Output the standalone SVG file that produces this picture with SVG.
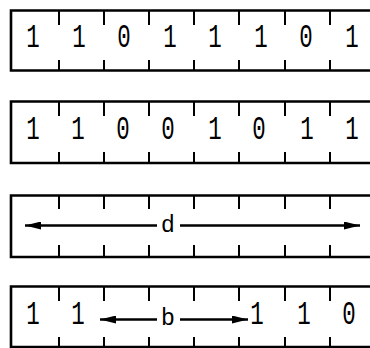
<svg xmlns="http://www.w3.org/2000/svg" width="370" height="348" viewBox="0 0 370 348">
<defs>
<style>
.frame{fill:none;stroke:#000;stroke-width:2.6}
.tick{stroke:#000;stroke-width:2}
.dig{font-family:"Liberation Mono","Courier New",monospace;font-size:33px;text-anchor:middle;fill:#000}
.lbl{font-family:"Liberation Sans",Arial,sans-serif;font-size:23px;text-anchor:middle;fill:#000}
.arr{stroke:#000;stroke-width:2.4;fill:none}
</style>
<marker id="ah" viewBox="0 0 16 8" refX="16" refY="4" markerWidth="16" markerHeight="8" markerUnits="userSpaceOnUse" orient="auto-start-reverse">
<path d="M0,0 L16,4 L0,8 Z" fill="#000"/>
</marker>
</defs>
<g id="row1">
<path class="frame" d="M370,10.5 H11 V70.5 H370"/>
<path class="tick" d="M59,10 V25 M104,10 V25 M149,10 V25 M194,10 V25 M239,10 V25 M285,10 V25 M330,10 V25 M59,60 V71 M104,60 V71 M149,60 V71 M194,60 V71 M239,60 V71 M285,60 V71 M330,60 V71"/>
<text class="dig" transform="translate(33,47) scale(0.68,1)">1</text>
<text class="dig" transform="translate(79,47) scale(0.68,1)">1</text>
<text class="dig" transform="translate(124,47) scale(0.68,1)">0</text>
<text class="dig" transform="translate(170,47) scale(0.68,1)">1</text>
<text class="dig" transform="translate(215,47) scale(0.68,1)">1</text>
<text class="dig" transform="translate(261,47) scale(0.68,1)">1</text>
<text class="dig" transform="translate(306,47) scale(0.68,1)">0</text>
<text class="dig" transform="translate(352,47) scale(0.68,1)">1</text>
</g>
<g id="row2">
<path class="frame" d="M370,101.5 H11 V163 H370"/>
<path class="tick" d="M59,101 V116 M104,101 V116 M149,101 V116 M194,101 V116 M239,101 V116 M285,101 V116 M330,101 V116 M59,152 V163 M104,152 V163 M149,152 V163 M194,152 V163 M239,152 V163 M285,152 V163 M330,152 V163"/>
<text class="dig" transform="translate(33,139) scale(0.68,1)">1</text>
<text class="dig" transform="translate(78,139) scale(0.68,1)">1</text>
<text class="dig" transform="translate(123,139) scale(0.68,1)">0</text>
<text class="dig" transform="translate(168,139) scale(0.68,1)">0</text>
<text class="dig" transform="translate(215,139) scale(0.68,1)">1</text>
<text class="dig" transform="translate(259,139) scale(0.68,1)">0</text>
<text class="dig" transform="translate(307,139) scale(0.68,1)">1</text>
<text class="dig" transform="translate(352,139) scale(0.68,1)">1</text>
</g>
<g id="row3">
<path class="frame" d="M370,195.5 H11 V257 H370"/>
<path class="tick" d="M59,195 V209 M104,195 V209 M149,195 V209 M194,195 V209 M239,195 V209 M285,195 V209 M330,195 V209 M59,245 V257 M104,245 V257 M149,245 V257 M194,245 V257 M239,245 V257 M285,245 V257 M330,245 V257"/>
<text class="lbl" x="168" y="232">d</text>
</g>
<g id="row4">
<path class="frame" d="M370,286.5 H11 V347 H370"/>
<path class="tick" d="M59,286 V301 M104,286 V301 M149,286 V301 M194,286 V301 M239,286 V301 M285,286 V301 M330,286 V301 M59,337 V347 M104,337 V347 M149,337 V347 M194,337 V347 M239,337 V347 M285,337 V347 M330,337 V347"/>
<text class="dig" transform="translate(33,324) scale(0.68,1)">1</text>
<text class="dig" transform="translate(78,324) scale(0.68,1)">1</text>
<text class="lbl" x="168" y="325">b</text>
<text class="dig" transform="translate(257,324) scale(0.68,1)">1</text>
<text class="dig" transform="translate(304,324) scale(0.68,1)">1</text>
<text class="dig" transform="translate(349,324) scale(0.68,1)">0</text>
</g>
<g id="connectors">
<line class="arr" x1="157" y1="225.5" x2="25" y2="225.5" marker-end="url(#ah)"/>
<line class="arr" x1="180" y1="225.5" x2="360" y2="225.5" marker-end="url(#ah)"/>
<line class="arr" x1="157" y1="319.5" x2="100" y2="319.5" marker-end="url(#ah)"/>
<line class="arr" x1="180" y1="319.5" x2="248" y2="319.5" marker-end="url(#ah)"/>
</g>
</svg>
